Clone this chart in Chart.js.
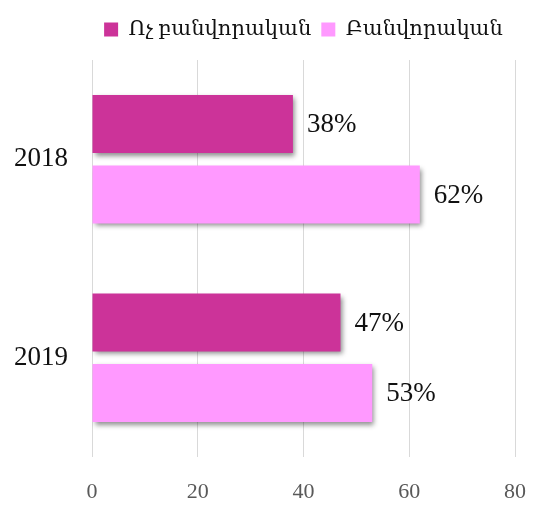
<!DOCTYPE html>
<html>
<head>
<meta charset="utf-8">
<script src="https://cdn.jsdelivr.net/npm/chart.js@4"></script>
<style>
  body { margin: 0; background: #fff; }
  #wrap { width: 535px; height: 506px; }
</style>
</head>
<body>
<div id="wrap"><canvas id="chart"></canvas></div>
<script>
const years = ['2018', '2019'];
const nonWorkers = [38, 47];
const workers = [62, 53];
const xTicks = [0, 20, 40, 60, 80];

const serif = '"Liberation Serif", "DejaVu Serif", serif';

// legend spacing / centring over the plot, and drop shadow under the bars
const barShadow = {
    id: 'barShadow',
    beforeInit(chart) {
        const lg = chart.legend;
        const fit = lg.fit;
        lg.fit = function () {
            fit.call(this);
            this.height += 10;
        };
        const draw = lg.draw;
        lg.draw = function () {
            const a = chart.chartArea;
            const dx = ((a.left + a.right) - (this.left + this.right)) / 2;
            chart.ctx.save();
            chart.ctx.translate(dx, 0);
            draw.apply(this, arguments);
            chart.ctx.restore();
        };
    },
    beforeDatasetsDraw(chart) {
        const c = chart.ctx;
        c.save();
        c.shadowColor = 'rgba(0,0,0,0.45)';
        c.shadowBlur = 5;
        c.shadowOffsetX = 2;
        c.shadowOffsetY = 3;
    },
    afterDatasetsDraw(chart) {
        chart.ctx.restore();
    }
};

// percent labels at the end of each bar
const valueLabels = {
    id: 'valueLabels',
    afterDraw(chart) {
        const c = chart.ctx;
        c.save();
        c.font = '27px ' + serif;
        c.fillStyle = '#111';
        c.textAlign = 'left';
        c.textBaseline = 'middle';
        chart.data.datasets.forEach((ds, i) => {
            chart.getDatasetMeta(i).data.forEach((bar, j) => {
                c.fillText(ds.data[j] + '%', bar.x + 14, bar.y + 1);
            });
        });
        c.restore();
    }
};

const ctx = document.getElementById('chart').getContext('2d');
var myChart = new Chart(ctx, {
    type: 'bar',
    data: {
        labels: years,
        datasets: [{
            label: 'Ոչ բանվորական',
            data: nonWorkers,
            backgroundColor: '#cc3399',
            categoryPercentage: 0.71,
            barPercentage: 0.82
        }, {
            label: 'Բանվորական',
            data: workers,
            backgroundColor: '#ff99ff',
            categoryPercentage: 0.71,
            barPercentage: 0.82
        }]
    },
    options: {
        indexAxis: 'y',
        responsive: true,
        maintainAspectRatio: false,
        animation: false,
        layout: { padding: { top: 9, right: 20, bottom: 0, left: 0 } },
        plugins: {
            legend: {
                position: 'top',
                labels: {
                    boxWidth: 14,
                    boxHeight: 14,
                    padding: 10,
                    color: '#111',
                    font: { family: serif, size: 21 }
                }
            },
            tooltip: { enabled: false }
        },
        scales: {
            x: {
                min: 0,
                max: 80,
                afterBuildTicks: axis => { axis.ticks = xTicks.map(v => ({ value: v })); },
                afterFit: axis => {
                    axis.height = 49;
                    axis.paddingLeft = 12;
                    axis.paddingRight = 12;
                },
                grid: { color: '#d9d9d9', drawTicks: false },
                border: { display: false },
                ticks: {
                    padding: 22,
                    color: '#595959',
                    font: { family: serif, size: 22 }
                }
            },
            y: {
                afterFit: axis => { axis.width = 92; },
                grid: { display: false },
                border: { display: false },
                ticks: {
                    padding: 16,
                    color: '#111',
                    font: { family: serif, size: 27 }
                }
            }
        }
    },
    plugins: [barShadow, valueLabels]
});
</script>
</body>
</html>
